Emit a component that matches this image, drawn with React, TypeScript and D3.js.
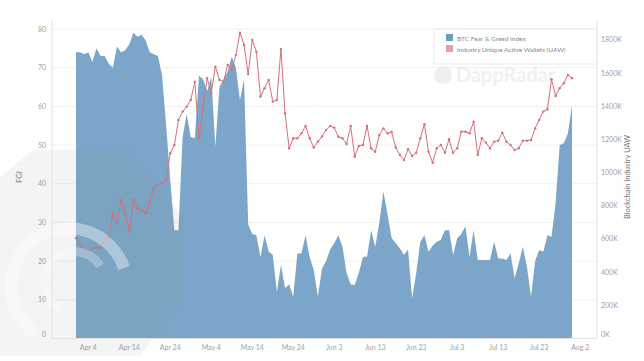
import React from 'react'
import * as d3 from 'd3'

// daily values, Apr 1 2023 .. Jul 31 2023
const startDay = new Date(2023, 3, 1)
const endDay = new Date(2023, 7, 1)

const fgi = [
  74, 74, 73.5, 74, 71.5, 75, 73, 73, 71, 70,
  75.5, 74, 74.5, 76, 79, 78, 78.5, 77, 74, 73.5,
  73, 68, 55, 41, 28, 28, 52, 58, 52, 51.8,
  68, 67, 64, 67.6, 49.6, 65, 67, 69, 72.8, 70,
  61.6, 67, 29.5, 27, 26.7, 21, 26.7, 22.5, 21.6, 12,
  19, 13, 14, 10.8, 22, 22, 26.7, 21, 17.7, 10.8,
  18, 20, 23, 24.6, 26.7, 23.7, 17, 14, 13.8, 17,
  21.1, 21.1, 28, 23.7, 30, 38, 32, 26, 24.6, 23.3,
  21.6, 23, 10.4, 17, 25, 26.7, 22.4, 24, 25, 25.5,
  28, 28, 21.6, 25.9, 27, 29, 21.1, 28, 20.3, 20.3,
  20.3, 20.3, 25, 20.7, 20.7, 20.3, 22, 15.6, 19.4, 23.7,
  18.6, 10.8, 20, 22.9, 22.4, 26.7, 26.3, 35, 50, 50.5,
  53, 60.3,
]

// unique active wallets, thousands
const uaw = [
  604, 564, 538, 530, 544, 550, 544, 594, 610, 755,
  695, 835, 755, 644, 839, 785, 775, 755, 825, 906,
  926, 936, 956, 1117, 1167, 1318, 1368, 1398, 1438, 1549,
  1207, 1398, 1569, 1480, 1639, 1559, 1549, 1649, 1619, 1710,
  1844, 1770, 1594, 1800, 1729, 1458, 1509, 1559, 1428, 1438,
  1746, 1358, 1147, 1207, 1207, 1237, 1281, 1207, 1151, 1187,
  1217, 1257, 1281, 1271, 1217, 1207, 1173, 1281, 1096, 1161,
  1167, 1281, 1147, 1126, 1227, 1267, 1237, 1245, 1152, 1107,
  1076, 1141, 1100, 1120, 1207, 1292, 1126, 1060, 1147, 1167,
  1120, 1201, 1120, 1147, 1247, 1247, 1237, 1307, 1107, 1207,
  1181, 1147, 1187, 1193, 1241, 1187, 1167, 1137, 1147, 1193,
  1193, 1197, 1267, 1318, 1368, 1382, 1563, 1462, 1509, 1539,
  1589, 1569,
]

const xTickLabels = ['Apr 4', 'Apr 14', 'Apr 24', 'May 4', 'May 14', 'May 24', 'Jun 3',
  'Jun 13', 'Jun 23', 'Jul 3', 'Jul 13', 'Jul 23', 'Aug 2']
const leftTicks = [0, 10, 20, 30, 40, 50, 60, 70, 80]
const rightTicks = [0, 200, 400, 600, 800, 1000, 1200, 1400, 1600, 1800]
const seriesNames = ['BTC Fear & Greed Index', 'Industry Unique Active Wallets (UAW)']

const W = 644
const H = 361
const font = 'Lato, "Open Sans", sans-serif'
const blue = '#7ba6c9'
const red = '#d5707a'
const textGray = '#a0a0a0'

const parseTick = d3.timeParse('%b %d %Y')

const App = () => {
  const days = d3.timeDay.range(startDay, endDay)
  const rows = days.map((date, i) => ({ date, fgi: fgi[i], uaw: uaw[i] }))

  const x = d3.scaleTime().domain([startDay, days[days.length - 1]]).range([76, 572])
  const yL = d3.scaleLinear().domain([0, 80]).range([338.5, 29])
  const yR = d3.scaleLinear().domain([0, 1866]).range([338.5, 29])

  const area = d3.area<any>()
    .x(d => x(d.date))
    .y0(yL(0))
    .y1(d => yL(d.fgi))
  const line = d3.line<any>()
    .x(d => x(d.date))
    .y(d => yR(d.uaw))

  const plotL = 52
  const plotR = 597

  return (
    <svg width={W} height={H} style={{ position: 'absolute', left: 0, top: 0, background: '#fff' }}>
      <rect width={W} height={H} fill="#fff" />

      {/* gridlines */}
      {leftTicks.map(t => (
        <line key={'g' + t} x1={plotL} x2={plotR} y1={yL(t)} y2={yL(t)} stroke="#f0f0f0" strokeWidth={1} />
      ))}

      {/* DappRadar watermark (back) */}
      <g opacity={0.55}>
        <circle cx={443} cy={75} r={9} fill="#e4e4e4" />
        <text x={456} y={82} fontFamily={font} fontSize={20} fontWeight={700} fill="#e6e6e6">DappRadar</text>
      </g>

      <path d={area(rows) || ''} fill={blue} />

      <path d={line(rows) || ''} fill="none" stroke={red} strokeWidth={1} />
      {rows.map((d, i) => (
        <circle key={i} cx={x(d.date)} cy={yR(d.uaw)} r={1.2} fill={red} />
      ))}

      {/* left logo watermark */}
      <g>
        <path d="M0,178 L32,150 L128,150 L184,218 L184,300 L140,356 L0,356 Z" fill="#808080" opacity={0.09} />
        <path d="M36,334 A58,58 0 1 1 124,268" fill="none" stroke="#fff" strokeWidth={12} opacity={0.38} />
        <path d="M60,308 A30,30 0 1 1 100,266" fill="none" stroke="#fff" strokeWidth={9} opacity={0.28} />
      </g>

      {/* axes */}
      <line x1={plotL} x2={plotL} y1={20} y2={338.5} stroke="#e2e2e2" />
      <line x1={plotR} x2={plotR} y1={20} y2={338.5} stroke="#e2e2e2" />
      <line x1={plotL} x2={plotR} y1={338.5} y2={338.5} stroke="#e2e2e2" />

      {leftTicks.map(t => (
        <text key={'l' + t} x={46} y={Math.min(yL(t), 334) + 2.5} textAnchor="end"
          fontFamily={font} fontSize={7} fill={textGray}>{t}</text>
      ))}
      {rightTicks.map(t => (
        <text key={'r' + t} x={601} y={Math.min(yR(t), 334) + 2.5}
          fontFamily={font} fontSize={7} fill={textGray}>{t + 'K'}</text>
      ))}
      {xTickLabels.map(l => {
        const dt = parseTick(l + ' 2023') as Date
        return (
          <text key={l} x={x(dt)} y={350} textAnchor="middle"
            fontFamily={font} fontSize={7} fill={textGray}>{l}</text>
        )
      })}

      <text transform="translate(22,177) rotate(-90)" textAnchor="middle"
        fontFamily={font} fontSize={7.5} fill="#777">FGI</text>
      <text transform="translate(630,177) rotate(-90)" textAnchor="middle"
        fontFamily={font} fontSize={7.5} fill="#777">Blockchain Industry UAW</text>

      {/* legend */}
      <g>
        <rect x={434} y={29} width={163} height={35} fill="none" stroke="#ececec" />
        <rect x={446} y={34} width={7} height={7} fill="#6f9cc4" />
        <rect x={446} y={45} width={7} height={7} fill="#e4a2a6" />
        <text x={457} y={40.5} fontFamily={font} fontSize={6.5} fill="#8a8a8a">{seriesNames[0]}</text>
        <text x={457} y={51.5} fontFamily={font} fontSize={6.5} fill="#8a8a8a">{seriesNames[1]}</text>
      </g>
    </svg>
  )
}

export default App
